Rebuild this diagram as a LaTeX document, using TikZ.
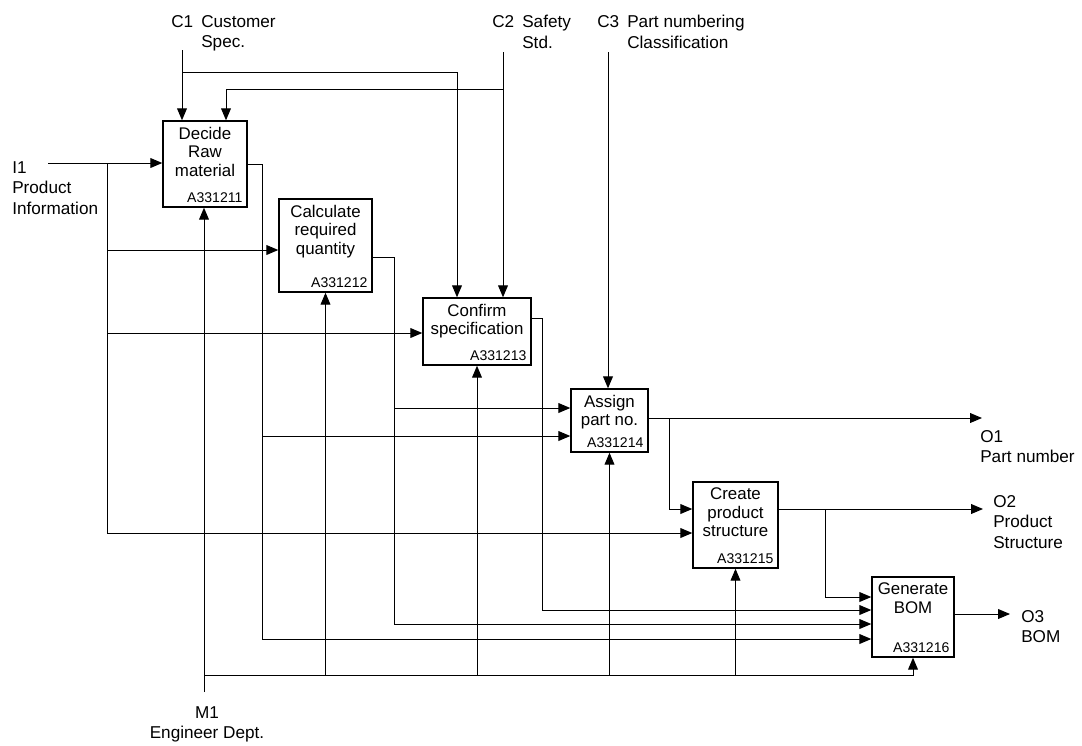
\documentclass[tikz,border=0pt]{standalone}
\usepackage{fontspec}
\setmainfont{Liberation Sans}
\usetikzlibrary{arrows.meta,positioning,calc}
\tikzset{
  fn/.style={draw, line width=1pt, inner sep=0pt},
  flow/.style={line width=0.7pt, -{Triangle[length=8.5pt,width=7pt]}},
  ttl/.style={font=\fontsize{12}{13.2}\selectfont, align=center, inner sep=1pt},
  code/.style={font=\fontsize{10}{11}\selectfont, inner sep=0pt, anchor=base east},
  lbl/.style={font=\fontsize{12.2}{14.6}\selectfont, align=left, inner sep=0pt, anchor=north west},
}

\begin{document}
\begin{tikzpicture}[x=0.025cm, y=-0.025cm]
\fill[white] (0,0) rectangle (1082,745);
\useasboundingbox (0,0) rectangle (1082,745);

% activity boxes
\node[fn, minimum width=2.1cm, minimum height=2.15cm] (b1) at (205,164) {};
\node[fn, minimum width=2.325cm, minimum height=2.325cm] (b2) at (325.5,245.5) {};
\node[fn, minimum width=2.7cm, minimum height=1.675cm] (b3) at (477,331.5) {};
\node[fn, minimum width=1.925cm, minimum height=1.575cm] (b4) at (609.5,420.5) {};
\node[fn, minimum width=2.125cm, minimum height=2.15cm] (b5) at (735.5,525) {};
\node[fn, minimum width=2.05cm, minimum height=2cm] (b6) at (913,617) {};

\node[ttl, below=3.5pt of b1.north] (b1t) {Decide\\Raw\\material};
\node[ttl, below=3.5pt of b2.north] (b2t) {Calculate\\required\\quantity};
\node[ttl, below=3.5pt of b3.north] (b3t) {Confirm\\specification};
\node[ttl, below=3.5pt of b4.north] (b4t) {Assign\\part no.};
\node[ttl, below=3.5pt of b5.north] (b5t) {Create\\product\\structure};
\node[ttl, below=3.5pt of b6.north] (b6t) {Generate\\BOM};

\node[code] (b1c) at ($(b1.south east)+(-5,-5)$) {A331211};
\node[code] (b2c) at ($(b2.south east)+(-5,-5)$) {A331212};
\node[code] (b3c) at ($(b3.south east)+(-5,-5)$) {A331213};
\node[code] (b4c) at ($(b4.south east)+(-5,-5)$) {A331214};
\node[code] (b5c) at ($(b5.south east)+(-5,-5)$) {A331215};
\node[code] (b6c) at ($(b6.south east)+(-5,-5)$) {A331216};

% outer labels
\node[lbl] (c1n) at (171,15) {C1};
\node[lbl] (c1l) at (201,15) {Customer\\Spec.};
\node[lbl] (c2n) at (492,15) {C2};
\node[lbl] (c2l) at (522,15) {Safety\\Std.};
\node[lbl] (c3n) at (597,15) {C3};
\node[lbl] (c3l) at (627,15) {Part numbering\\Classification};
\node[lbl] (i1l) at (12,161) {I1\\Product\\Information};
\node[lbl] (o1l) at (980,430) {O1\\Part number};
\node[lbl] (o2l) at (993,495) {O2\\Product\\Structure};
\node[lbl] (o3l) at (1021,610) {O3\\BOM};
\node[lbl, align=center, anchor=north] (m1l) at (207,706) {M1\\Engineer Dept.};

% free ends
\coordinate (c1) at (182,50);
\coordinate (c2) at (503,52);
\coordinate (c3) at (608,52);
\coordinate (i1) at (48,163);
\coordinate (m1) at (204,692);
\coordinate (o1) at (982,418);
\coordinate (o2) at (983,509);
\coordinate (o3) at (1010,614);

% controls
\coordinate (c1j) at (182,72);
\coordinate (c2j) at (503,89);
\draw[flow] (c1) -- (c1 |- b1.north);
\draw[flow] (c1j) -| ($(b3.north)+(-20,0)$);
\draw[flow] (c2) -- (c2 |- b3.north);
\draw[flow] (c2j) -| ($(b1.north)+(21,0)$);
\draw[flow] (c3) -- (c3 |- b4.north);

% inputs
\coordinate (i1j) at (107,163);
\draw[flow] (i1) -- (i1 -| b1.west);
\draw[flow] (i1j) |- ($(b2.west)+(0,4.5)$);
\draw[flow] (i1j) |- ($(b3.west)+(0,1.5)$);
\draw[flow] (i1j) |- ($(b5.west)+(0,8)$);

% box outputs
\coordinate (b1o) at ($(b1.east)+(15,0)$);
\draw[flow] (b1.east) -- (b1o) |- ($(b6.west)+(0,22)$);
\draw[flow] (b1o) |- ($(b4.west)+(0,15.5)$);

\coordinate (b2o) at ($(b2.east)+(22,11.5)$);
\draw[flow] ($(b2.east)+(0,11.5)$) -- (b2o) |- ($(b6.west)+(0,7)$);
\draw[flow] (b2o) |- ($(b4.west)+(0,-12.5)$);

\coordinate (b3o) at ($(b3.east)+(11,-13.5)$);
\draw[flow] ($(b3.east)+(0,-13.5)$) -- (b3o) |- ($(b6.west)+(0,-7)$);

\coordinate (b4o) at ($(b4.east)+(21,-2.5)$);
\draw[flow] ($(b4.east)+(0,-2.5)$) -- (o1);
\draw[flow] (b4o) |- ($(b5.west)+(0,-16)$);

\coordinate (b5o) at ($(b5.east)+(47,-16)$);
\draw[flow] ($(b5.east)+(0,-16)$) -- (o2);
\draw[flow] (b5o) |- ($(b6.west)+(0,-20)$);

\draw[flow] ($(b6.east)+(0,-3)$) -- (o3);

% mechanism
\coordinate (m1j) at (204,675);
\draw[flow] (m1) -- (m1 |- b1.south);
\draw[flow] (m1j) -| (b6.south);
\draw[flow] (m1j -| b2.south) -- (b2.south);
\draw[flow] (m1j -| b3.south) -- (b3.south);
\draw[flow] (m1j -| b4.south) -- (b4.south);
\draw[flow] (m1j -| b5.south) -- (b5.south);
\end{tikzpicture}
\end{document}
